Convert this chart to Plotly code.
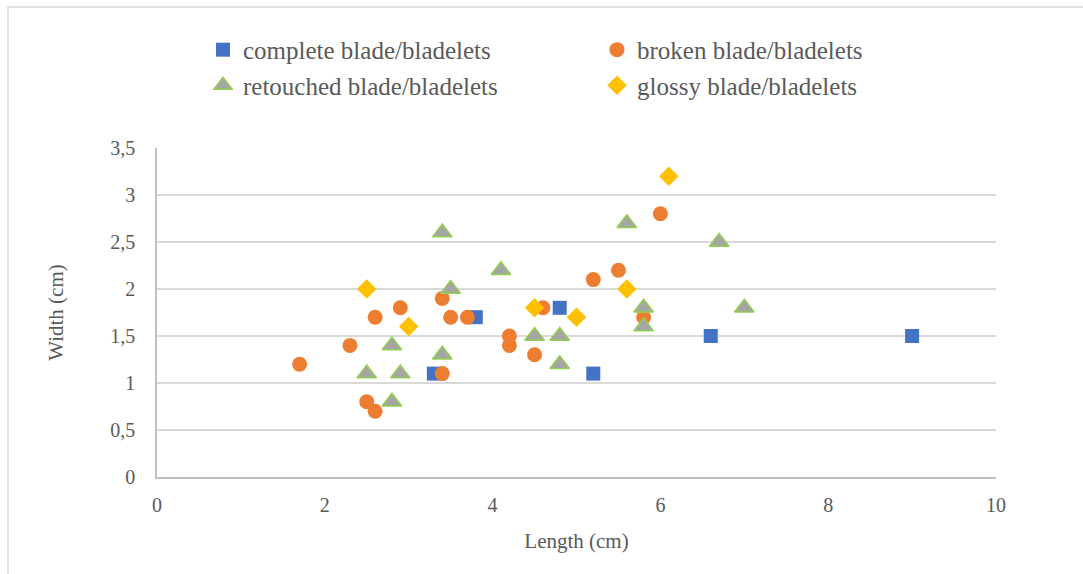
import plotly.graph_objects as go

# Blade/bladelet measurements (length, width in cm)
complete_len = [3.3, 3.8, 4.8, 5.2, 6.6, 9.0]
complete_wid = [1.1, 1.7, 1.8, 1.1, 1.5, 1.5]

broken_len = [1.7, 2.3, 2.5, 2.6, 2.6, 2.9, 3.4, 3.4, 3.5, 3.7, 4.2, 4.2, 4.5, 4.6, 5.2, 5.5, 5.8, 6.0]
broken_wid = [1.2, 1.4, 0.8, 0.7, 1.7, 1.8, 1.9, 1.1, 1.7, 1.7, 1.5, 1.4, 1.3, 1.8, 2.1, 2.2, 1.7, 2.8]

retouched_len = [2.5, 2.8, 2.8, 2.9, 3.4, 3.4, 3.5, 4.1, 4.5, 4.8, 4.8, 5.6, 5.8, 5.8, 6.7, 7.0]
retouched_wid = [1.1, 1.4, 0.8, 1.1, 2.6, 1.3, 2.0, 2.2, 1.5, 1.5, 1.2, 2.7, 1.8, 1.6, 2.5, 1.8]

glossy_len = [2.5, 3.0, 4.5, 5.0, 5.6, 6.1]
glossy_wid = [2.0, 1.6, 1.8, 1.7, 2.0, 3.2]

x_ticks = [0, 2, 4, 6, 8, 10]
x_tick_labels = ["0", "2", "4", "6", "8", "10"]
y_ticks = [0, 0.5, 1, 1.5, 2, 2.5, 3, 3.5]
y_tick_labels = ["0", "0,5", "1", "1,5", "2", "2,5", "3", "3,5"]

FONT = "Liberation Serif, Times New Roman, serif"
TEXT = "#595959"
GRID = "#D9D9D9"

fig = go.Figure()
fig.add_trace(go.Scatter(
    x=complete_len, y=complete_wid, mode="markers", name="complete blade/bladelets",
    marker=dict(symbol="square", size=14, color="#4472C4", line=dict(width=0)),
))
fig.add_trace(go.Scatter(
    x=broken_len, y=broken_wid, mode="markers", name="broken blade/bladelets",
    marker=dict(symbol="circle", size=15, color="#ED7D31", line=dict(width=0)),
))
fig.add_trace(go.Scatter(
    x=retouched_len, y=retouched_wid, mode="markers", name="retouched blade/bladelets",
    marker=dict(symbol="triangle-up", size=17, color="#A5A5A5", line=dict(width=1.5, color="#92D050")),
))
fig.add_trace(go.Scatter(
    x=glossy_len, y=glossy_wid, mode="markers", name="glossy blade/bladelets",
    marker=dict(symbol="diamond", size=15, color="#FFC000", line=dict(width=0)),
))

# Outer chart border (extends past the right and bottom edges)
fig.add_shape(type="rect", xref="paper", yref="paper",
              x0=-0.1776, x1=1.12, y0=-0.32, y1=1.4286,
              line=dict(color="#D9D9D9", width=1.5), fillcolor="rgba(0,0,0,0)", layer="below")

fig.update_layout(
    width=1083, height=574,
    margin=dict(l=157, r=87, t=148, b=97, autoexpand=False),
    paper_bgcolor="white", plot_bgcolor="white",
    font=dict(family=FONT, color=TEXT, size=20),
    showlegend=True,
    legend=dict(
        orientation="h", x=0.0548, xanchor="left", y=1.368, yanchor="top",
        entrywidth=349, entrywidthmode="pixels", itemwidth=30,
        font=dict(family=FONT, size=25, color=TEXT),
        tracegroupgap=0, bgcolor="rgba(0,0,0,0)",
    ),
    xaxis=dict(
        range=[0, 10], tickvals=x_ticks, ticktext=x_tick_labels,
        showgrid=False, zeroline=False, showline=True, linecolor="#BFBFBF", linewidth=1.5,
        ticks="", ticklabelstandoff=9, tickfont=dict(size=20, color=TEXT, family=FONT),
        title=dict(text="Length (cm)", font=dict(size=21, color=TEXT, family=FONT), standoff=19),
    ),
    yaxis=dict(
        range=[0, 3.5], tickvals=y_ticks, ticktext=y_tick_labels,
        showgrid=True, gridcolor=GRID, gridwidth=1.5, zeroline=False,
        showline=True, linecolor="#BFBFBF", linewidth=1.5,
        ticks="", ticklabelstandoff=16, tickfont=dict(size=20, color=TEXT, family=FONT),
        title=dict(text="Width (cm)", font=dict(size=21, color=TEXT, family=FONT), standoff=41),
    ),
)

fig.write_html("out.html")
